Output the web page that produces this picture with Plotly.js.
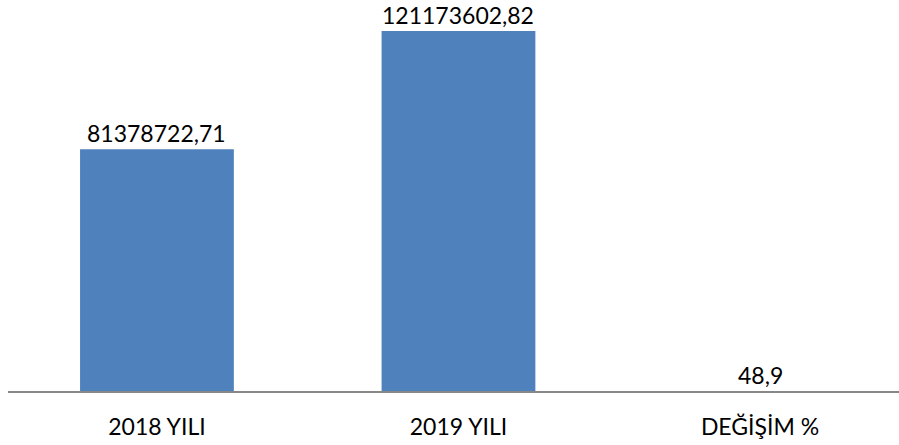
<!DOCTYPE html>
<html>
<head>
<meta charset="utf-8">
<script src="https://cdn.plot.ly/plotly-3.0.1.min.js"></script>
<style>html,body{margin:0;padding:0;background:#fff;}#chart{width:899px;height:445px;}</style>
</head>
<body>
<div id="chart"></div>
<script>
const categories = ["2018 YILI", "2019 YILI", "DEĞİŞİM %"];
const values = [81378722.71, 121173602.82, 48.9];
const labels = values.map(v => String(v).replace('.', ','));

const FONT = 'Lato, "Open Sans", sans-serif';

const trace = {
  type: 'bar',
  x: categories,
  y: values,
  marker: {color: '#4F81BD'},
  width: 0.51,
  hoverinfo: 'none'
};

const annotations = categories.map((c, i) => ({
  x: c, y: values[i], xref: 'x', yref: 'y',
  text: labels[i], showarrow: false,
  xanchor: 'center', yanchor: 'bottom', yshift: 1, borderpad: 0,
  font: {family: FONT, size: 23, color: '#000'}
}));

const layout = {
  width: 899, height: 445,
  margin: {l: 8, r: 0, t: 0, b: 54},
  paper_bgcolor: '#fff', plot_bgcolor: '#fff',
  showlegend: false,
  font: {family: FONT, size: 23, color: '#000'},
  annotations: annotations,
  xaxis: {
    type: 'category',
    range: [-0.494, 2.461],
    showline: true, linecolor: '#888888', linewidth: 1.5,
    ticks: '', ticklabelstandoff: 15,
    tickfont: {family: FONT, size: 23, color: '#000'},
    showgrid: false, zeroline: false, fixedrange: true
  },
  yaxis: {
    range: [0, 131600000],
    visible: false, showgrid: false, zeroline: false, fixedrange: true
  }
};

Plotly.newPlot('chart', [trace], layout, {displayModeBar: false, staticPlot: true});
</script>
</body>
</html>
